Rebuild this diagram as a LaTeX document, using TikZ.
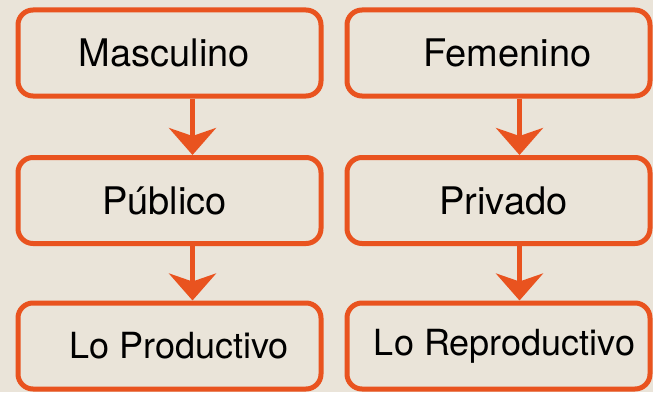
\documentclass[tikz,border=0pt]{standalone}
\usepackage{fontspec}
\setmainfont{TeX Gyre Heros}
\usetikzlibrary{arrows.meta}
\usetikzlibrary{positioning}

\definecolor{fondo}{HTML}{EAE4D9}
\definecolor{naranja}{HTML}{E9531F}

\tikzset{
  caja/.style={draw=naranja,line width=5pt,rounded corners=15pt,
    minimum width=303pt,minimum height=86pt,inner sep=0pt,text=black,
    font=\fontsize{38}{40}\selectfont},
  cajab/.style={caja,font=\fontsize{36}{38}\selectfont},
  corre/.style={execute at begin node={\hspace*{#1}}},
  flecha/.style={draw=naranja,line width=5pt,
    -{Stealth[length=27pt,width=47pt,inset=8pt]}}
}

\begin{document}
\begin{tikzpicture}[x=1pt,y=1pt]
\useasboundingbox (0,0) rectangle (653,392);
\fill[fondo] (0,0) rectangle (653,392);

\node[caja,corre=-10pt] (masc) at (169.5,339) {Masculino};
\node[caja,corre=18pt] (fem) at (498.5,339) {Femenino};
\node[caja,corre=-10pt] (pub) at (169.5,191.5) {Público};
\node[caja,corre=10pt] (priv) at (498.5,191.5) {Privado};
\node[cajab,corre=19pt] (prod) at (169.5,46) {Lo Productivo};
\node[cajab,corre=12pt] (repr) at (498.5,46) {Lo Reproductivo};

\draw[flecha] ([xshift=23pt]masc.south) -- ([xshift=23pt]pub.north);
\draw[flecha] ([xshift=23pt]pub.south) -- ([xshift=23pt]prod.north);
\draw[flecha] ([xshift=21pt]fem.south) -- ([xshift=21pt]priv.north);
\draw[flecha] ([xshift=21pt]priv.south) -- ([xshift=21pt]repr.north);

\end{tikzpicture}
\end{document}
